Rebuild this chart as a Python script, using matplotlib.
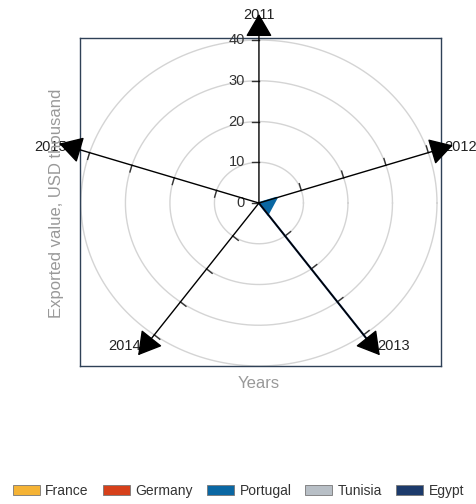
import numpy as np
import matplotlib
matplotlib.use("Agg")
import matplotlib.pyplot as plt
from matplotlib.patches import Patch, Polygon

plt.rcParams['font.family'] = ['Liberation Sans', 'DejaVu Sans']

years = ["2011", "2012", "2013", "2014", "2015"]
series_names = ["France", "Germany", "Portugal", "Tunisia", "Egypt"]
france = [0, 0, 0, 0, 0]
germany = [0, 0, 0, 0, 0]
portugal = [0, 4.2, 3.4, 0, 0]
tunisia = [0, 0, 0, 0, 0]
egypt = [0, 0, 44, 0, 0]
colors = ["#F5B335", "#D6401A", "#0A67A3", "#B8BFC6", "#1C3A6B"]
ring_values = [10, 20, 30, 40]
radial_ticks = [0, 10, 20, 30, 40]
x_title = "Years"
y_title = "Exported value, USD thousand"

W, H = 477, 504
fig = plt.figure(figsize=(W / 100, H / 100), dpi=100)
L, R, T, B = 80, 441, 38, 366
ax = fig.add_axes([L / W, 1 - B / H, (R - L) / W, (B - T) / H])
ax.set_xlim(-40.2, 40.9)
ax.set_ylim(-40, 40.5)
ax.set_xticks([])
ax.set_yticks([])
for s in ax.spines.values():
    s.set_color("#2f4157")
    s.set_linewidth(1)

# pixel scale
p0 = ax.transData.transform((0, 0))
p1 = ax.transData.transform((1, 1))
sx, sy = p1[0] - p0[0], p1[1] - p0[1]

angles = np.deg2rad(90 - 72 * np.arange(len(years)))

# rings
t = np.linspace(0, 2 * np.pi, 400)
for rv in ring_values:
    ax.plot(rv * np.cos(t), rv * np.sin(t), color="#d4d4d4", lw=1, zorder=1)

# series
all_series = [france, germany, portugal, tunisia, egypt]
for vals, c in zip(all_series, colors):
    pts = [(v * np.cos(a), v * np.sin(a)) for v, a in zip(vals, angles)]
    ax.add_patch(Polygon(pts, closed=True, facecolor=c, edgecolor=c, lw=1.5, zorder=4))

# axis labels (drawn below arrows)
label_pos = [(0, 46.1), (45.3, 13.7), (30.2, -35.1), (-30.2, -35.1), (-46.9, 13.7)]
for yr, (lx, ly) in zip(years, label_pos):
    ax.text(lx, ly, yr, ha="center", va="center", fontsize=10.5, color="#222222",
            clip_on=False, zorder=5)

# axes + arrows
tip_rs = [46.4, 45.8, 46.2, 46.2, 47.2]
for a, tip_r in zip(angles, tip_rs):
    ax.annotate("", xy=(tip_r * np.cos(a), tip_r * np.sin(a)), xytext=(0, 0),
                xycoords="data", textcoords="data", annotation_clip=False,
                arrowprops=dict(arrowstyle="-|>,head_length=0.72,head_width=0.42",
                                mutation_scale=20, color="black", lw=1,
                                shrinkA=0, shrinkB=0), zorder=6)
    dpx = np.array([sx * np.cos(a), sy * np.sin(a)])
    dpx /= np.linalg.norm(dpx)
    perp = np.array([-dpx[1], dpx[0]])
    tick_len = 7
    if abs(np.cos(a)) < 1e-6:
        continue
    for rv in ring_values:
        x0, y0 = rv * np.cos(a), rv * np.sin(a)
        ax.plot([x0, x0 + perp[0] * tick_len / sx], [y0, y0 + perp[1] * tick_len / sy],
                color="#333333", lw=1, zorder=3)

# radial tick labels on the vertical axis
for rv in radial_ticks:
    ax.plot([0, -7 / sx], [rv, rv], color="#333333", lw=1, zorder=3)
    ax.text(-14 / sx, rv, str(rv), ha="right", va="center", fontsize=10.5,
            color="#333333", zorder=5)

fig.text(259 / W, 1 - 383 / H, x_title, ha="center", va="center", fontsize=12, color="#999999")
fig.text(57 / W, 1 - 203 / H, y_title, ha="center", va="center", rotation=90,
         fontsize=12, color="#999999")

handles = [Patch(facecolor=c, edgecolor="#777777", lw=0.6) for c in colors]
fig.legend(handles, series_names, loc="center", bbox_to_anchor=(0.5, 1 - 491 / H),
           ncol=5, frameon=False, fontsize=10, handlelength=1.95, handleheight=0.75,
           handletextpad=0.4, columnspacing=1.0, labelcolor="#333333")

fig.savefig("out.png", dpi=100)
